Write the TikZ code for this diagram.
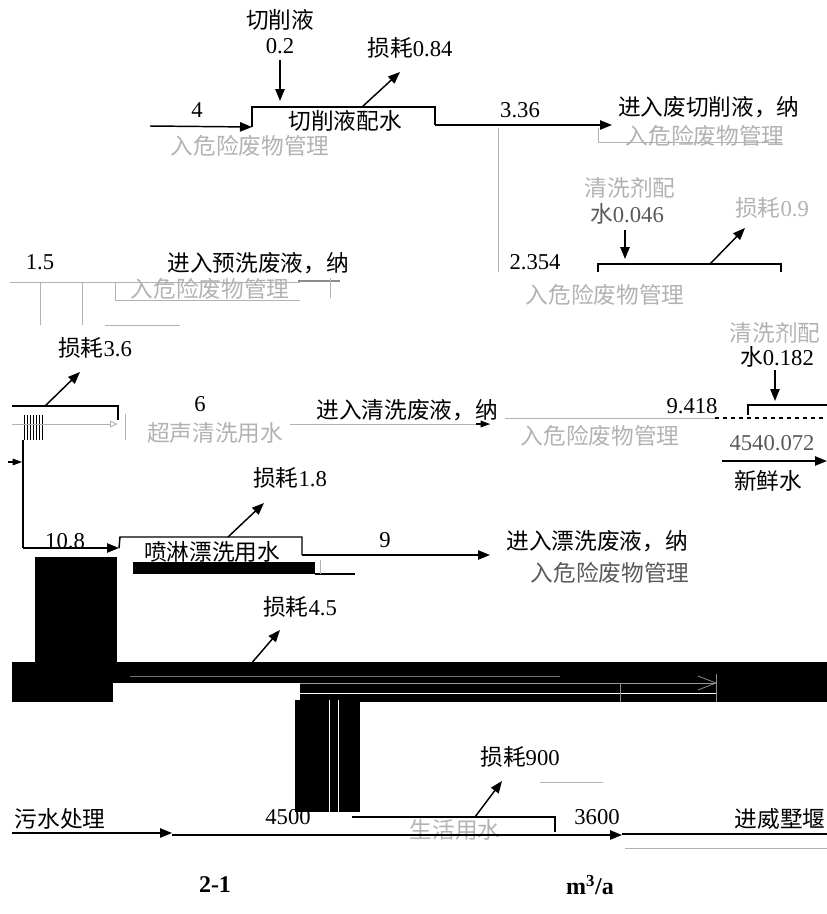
\documentclass[tikz,border=0pt]{standalone}
\usepackage{fontspec}
\setmainfont{Liberation Serif}
\newfontfamily\cjk{Noto Sans CJK SC}
\usetikzlibrary{arrows.meta,calc}
\newcommand{\zh}[1]{{\cjk #1}}
\begin{document}
\begin{tikzpicture}[x=0.75pt,y=-0.75pt,
  lbl/.style={font=\fontsize{17}{19}\selectfont, inner sep=0pt},
  glbl/.style={lbl, text=black!30},
  dlbl/.style={lbl, text=black!65},
  captext/.style={font=\fontsize{18}{20}\selectfont\bfseries, inner sep=0pt},
  flow/.style={line width=1.1pt, -{Triangle[length=9pt,width=7pt]}},
  sflow/.style={line width=0.8pt, -{Triangle[length=7pt,width=5pt]}},
  edge/.style={line width=1.1pt},
  faint/.style={line width=0.7pt, draw=black!30},
  blk/.style={fill=black, draw=none}]
\useasboundingbox (0,0) rectangle (827,914);

% ---------- row 1: cutting fluid ----------
\node[lbl] (t1) at (280,20) {\zh{切削液}};
\node[lbl] (t2) at (280,46) {0.2};
\coordinate (c1a) at (280,60); \coordinate (c1b) at (280,101);
\draw[flow] (c1a) -- (c1b);
\coordinate (b1ll) at (252,127); \coordinate (b1tl) at (252,107);
\coordinate (b1tr) at (435,107); \coordinate (b1rr) at (435,125);
\draw[edge] (b1ll) -- (b1tl) -- (b1tr) -- (b1rr);
\node[lbl] (b1) at (345,121) {\zh{切削液配水}};
\coordinate (in4) at (150,126);
\draw[flow] (in4) -- (b1ll);
\node[lbl] (t4) at (197,110) {4};
\node[glbl] (g1) at (250,146) {\zh{入危险废物管理}};
\coordinate (l1a) at (362,107); \coordinate (l1b) at (400,72);
\draw[flow] (l1a) -- (l1b);
\node[lbl] (l1) at (410,48) {\zh{损耗}0.84};
\coordinate (o1) at (612,125);
\draw[flow] (b1rr) -- (o1);
\node[lbl] (t336) at (520,110) {3.36};
\node[lbl, anchor=west] (o1t) at (618,107) {\zh{进入废切削液，纳}};
\node[glbl] (g2) at (705,136) {\zh{入危险废物管理}};
\coordinate (f1a) at (598,128); \coordinate (f1b) at (598,142); \coordinate (f1c) at (782,142);
\draw[faint] (f1a) -- (f1b) -- (f1c);
\coordinate (f2a) at (498,128); \coordinate (f2b) at (498,272);
\draw[faint] (f2a) -- (f2b);

% ---------- row 2: pre-wash ----------
\node[lbl] (t15) at (40,262) {1.5};
\node[lbl] (o2t) at (258,263) {\zh{进入预洗废液，纳}};
\node[glbl] (g3) at (210,289) {\zh{入危险废物管理}};
\coordinate (f3a) at (10,282); \coordinate (f3b) at (300,282);
\draw[faint] (f3a) -- (f3b);
\coordinate (f4a) at (40,282); \coordinate (f4b) at (40,325);
\coordinate (f5a) at (82,282); \coordinate (f5b) at (82,325);
\draw[faint] (f4a) -- (f4b); \draw[faint] (f5a) -- (f5b);
\coordinate (f6a) at (115,282); \coordinate (f6b) at (115,300); \coordinate (f6c) at (300,300);
\draw[faint] (f6a) -- (f6b) -- (f6c);
\coordinate (f7a) at (298,281); \coordinate (f7b) at (340,281);
\draw[line width=1.2pt, draw=black!45] (f7a) -- (f7b);
\coordinate (f8a) at (330,278); \coordinate (f8b) at (330,298);
\draw[faint] (f8a) -- (f8b);
\coordinate (f9a) at (105,325); \coordinate (f9b) at (180,325);
\draw[faint] (f9a) -- (f9b);
\node[lbl] (t2354) at (535,262) {2.354};
\node[glbl] (g4) at (605,295) {\zh{入危险废物管理}};
\coordinate (b2l) at (598,272); \coordinate (b2tl) at (598,264);
\coordinate (b2tr) at (781,264); \coordinate (b2r) at (781,272);
\draw[edge] (b2l) -- (b2tl) -- (b2tr) -- (b2r);
\node[glbl] (g5) at (630,188) {\zh{清洗剂配}};
\node[dlbl] (t046) at (627,214) {\zh{水}0.046};
\coordinate (c2a) at (625,230); \coordinate (c2b) at (625,259);
\draw[flow] (c2a) -- (c2b);
\coordinate (l2a) at (710,264); \coordinate (l2b) at (745,228);
\draw[flow] (l2a) -- (l2b);
\node[glbl] (g6) at (772,208) {\zh{损耗}0.9};

% ---------- row 3: ultrasonic cleaning ----------
\node[lbl] (l3) at (95,348) {\zh{损耗}3.6};
\coordinate (l3a) at (45,406); \coordinate (l3b) at (80,372);
\draw[flow] (l3a) -- (l3b);
\coordinate (b3l) at (12,406); \coordinate (b3tr) at (118,406); \coordinate (b3r) at (118,420);
\draw[edge] (b3l) -- (b3tr) -- (b3r);
\foreach \hx in {24,27,...,42} {\draw[line width=0.55pt] (\hx,415) -- (\hx,440);}
\coordinate (v1a) at (23,440); \coordinate (v1b) at (23,548); \coordinate (b4l) at (119,548);
\draw[edge] (v1a) -- (v1b);
\draw[flow] (v1b) -- (b4l);
\coordinate (s1a) at (8,462); \coordinate (s1b) at (22,462);
\draw[sflow] (s1a) -- (s1b);
\coordinate (f10a) at (125,414); \coordinate (f10b) at (125,440);
\draw[faint] (f10a) -- (f10b);
\coordinate (f11a) at (12,424); \coordinate (f11b) at (118,424);
\draw[faint,-{Triangle[length=6pt,width=5pt,open]}] (f11a) -- (f11b);
\node[lbl] (t6) at (200,404) {6};
\node[glbl] (g7) at (215,433) {\zh{超声清洗用水}};
\node[lbl] (o3t) at (407,410) {\zh{进入清洗废液，纳}};
\coordinate (o3a) at (290,424); \coordinate (o3b) at (490,424);
\coordinate (o3c) at (476,424);
\draw[faint] (o3a) -- (o3b);
\draw[sflow] (o3c) -- (o3b);
\node[glbl] (g8) at (600,436) {\zh{入危险废物管理}};
\coordinate (f12a) at (505,418); \coordinate (f12b) at (715,418);
\draw[faint] (f12a) -- (f12b);
\node[lbl] (t9418) at (692,406) {9.418};
\coordinate (d1a) at (715,418); \coordinate (d1b) at (827,418);
\draw[line width=1pt, dashed] (d1a) -- (d1b);
\coordinate (b5l) at (748,415); \coordinate (b5tl) at (748,405); \coordinate (b5tr) at (827,405);
\draw[edge] (b5l) -- (b5tl) -- (b5tr);
\node[glbl] (g9) at (775,333) {\zh{清洗剂配}};
\node[lbl] (t182) at (777,357) {\zh{水}0.182};
\coordinate (c3a) at (775,370); \coordinate (c3b) at (775,401);
\draw[flow] (c3a) -- (c3b);
\node[dlbl] (t4540) at (772,443) {4540.072};
\coordinate (fwa) at (722,461); \coordinate (fwb) at (827,461);
\draw[flow] (fwa) -- (fwb);
\node[lbl] (fw) at (768,481) {\zh{新鲜水}};

% ---------- row 4: spray rinsing ----------
\node[lbl] (t108) at (65,541) {10.8};
\coordinate (b4tl) at (120,537); \coordinate (b4tr) at (302,537); \coordinate (b4r) at (302,555);
\draw[edge] (b4l) -- (b4tl) -- (b4tr) -- (b4r);
\node[lbl] (b4) at (212,552) {\zh{喷淋漂洗用水}};
\fill[blk] (133,562) rectangle (315,574);
\coordinate (f13a) at (315,574); \coordinate (f13b) at (355,574);
\draw[line width=0.8pt] (f13a) -- (f13b);
\coordinate (f14a) at (320,560); \coordinate (f14b) at (320,574);
\draw[faint] (f14a) -- (f14b);
\coordinate (o4) at (490,555);
\draw[flow] (b4r) -- (o4);
\node[lbl] (t9) at (385,540) {9};
\node[lbl] (o4t) at (597,541) {\zh{进入漂洗废液，纳}};
\node[dlbl] (g10) at (610,573) {\zh{入危险废物管理}};
\coordinate (l4a) at (228,537); \coordinate (l4b) at (264,503);
\draw[flow] (l4a) -- (l4b);
\node[lbl] (l4) at (290,478) {\zh{损耗}1.8};

% ---------- row 5: black band ----------
\fill[blk] (35,557) rectangle (117,663);
\fill[blk] (12,662) rectangle (827,702);
\fill[white] (113,683) rectangle (300,702);
\coordinate (f15a) at (300,683); \coordinate (f15b) at (716,683);
\draw[line width=0.7pt, draw=black!40] (f15a) -- (f15b);
\coordinate (f16a) at (160,693); \coordinate (f16b) at (716,693);
\draw[line width=0.7pt, draw=white] (f16a) -- (f16b);
\coordinate (f17a) at (130,676); \coordinate (f17b) at (560,676);
\draw[line width=0.6pt, draw=black!55] (f17a) -- (f17b);
\coordinate (tri1) at (698,676); \coordinate (tri2) at (716,683); \coordinate (tri3) at (698,690);
\draw[line width=0.6pt, draw=black!45] (tri1) -- (tri2) -- (tri3);
\coordinate (f18a) at (716,674); \coordinate (f18b) at (716,702);
\draw[line width=0.6pt, draw=black!45] (f18a) -- (f18b);
\coordinate (f19a) at (620,683); \coordinate (f19b) at (620,702);
\draw[line width=0.6pt, draw=black!45] (f19a) -- (f19b);
\coordinate (l5a) at (250,665); \coordinate (l5b) at (280,630);
\draw[flow] (l5a) -- (l5b);
\node[lbl] (l5) at (300,607) {\zh{损耗}4.5};
\fill[blk] (295,700) rectangle (360,812);
\coordinate (w1a) at (329,700); \coordinate (w1b) at (329,812);
\coordinate (w2a) at (338,700); \coordinate (w2b) at (338,812);
\draw[line width=0.7pt, draw=white] (w1a) -- (w1b);
\draw[line width=0.7pt, draw=white] (w2a) -- (w2b);

% ---------- row 6: domestic water ----------
\node[lbl] (l6) at (520,757) {\zh{损耗}900};
\coordinate (l6a) at (475,817); \coordinate (l6b) at (502,781);
\draw[flow] (l6a) -- (l6b);
\coordinate (f20a) at (540,782); \coordinate (f20b) at (603,782);
\draw[faint] (f20a) -- (f20b);
\coordinate (b6tl) at (352,817); \coordinate (b6tr) at (555,817); \coordinate (b6r) at (555,832);
\draw[edge] (b6tl) -- (b6tr) -- (b6r);
\node[glbl] (b6) at (455,830) {\zh{生活用水}};
\node[lbl] (t4500) at (288,817) {4500};
\node[lbl] (t3600) at (597,817) {3600};
\node[lbl] (ww) at (60,819) {\zh{污水处理}};
\node[lbl] (wwp) at (780,819) {\zh{进威墅堰}};
\coordinate (r6a) at (12,833); \coordinate (r6b) at (172,833);
\draw[flow] (r6a) -- (r6b);
\coordinate (r6c) at (172,835); \coordinate (r6d) at (622,835);
\draw[flow] (r6c) -- (r6d);
\coordinate (r6e) at (622,834); \coordinate (r6f) at (827,834);
\draw[line width=2pt] (r6e) -- (r6f);
\coordinate (f21a) at (625,848); \coordinate (f21b) at (827,848);
\draw[faint] (f21a) -- (f21b);

% ---------- caption ----------
\node[captext] (cap1) at (215,885) {2-1};
\node[captext] (cap2) at (590,885) {m$^{\mathbf{3}}$/a};
\end{tikzpicture}
\end{document}
